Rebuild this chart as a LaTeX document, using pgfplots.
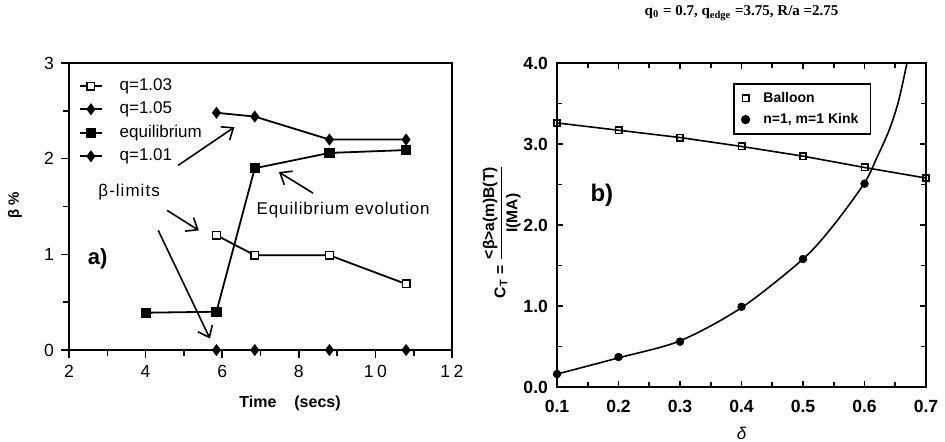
\documentclass[border=0pt]{standalone}
\usepackage{pgfplots}
\pgfplotsset{compat=1.18}
\usetikzlibrary{arrows.meta}
\usepackage{fontspec}
\setmainfont{Liberation Sans}
\newfontfamily\serif{Liberation Serif}
\newfontfamily\spaced[LetterSpace=20]{Liberation Sans}
\begin{document}
\begin{tikzpicture}
\useasboundingbox (0,0) rectangle (472.5pt,220.5pt);
% ---------------- panel a ----------------
\begin{axis}[
 at={(34.5pt,45.5pt)}, anchor=south west, scale only axis,
 width=191.5pt, height=143.5pt,
 xmin=2, xmax=12, ymin=0, ymax=3,
 xtick={2,4,6,8,10,12}, ytick={0,1,2,3},
 minor x tick num=1, minor y tick num=1,
 xtick pos=bottom, ytick pos=left, tick align=outside,
 major tick length=4pt, minor tick length=3pt,
 axis line style={line width=1pt},
 every tick/.style={line width=0.8pt, black},
 tick label style={font=\spaced\fontsize{8.8}{10}\selectfont},
 /pgf/number format/assume math mode=true,
 xlabel={\bfseries Time\hspace{9pt}(secs)},
 xlabel style={at={(axis description cs:0.577,-0.185)}, anchor=center, font=\fontsize{8}{9}\selectfont},
 ylabel={\bfseries β \%},
 ylabel style={at={(axis description cs:-0.141,0.505)}, anchor=center, font=\fontsize{7.5}{8}\selectfont},
 legend style={at={(axis description cs:0.01,0.975)}, anchor=north west, draw=none, fill=none,
   font=\fontsize{8.5}{10}\selectfont, row sep=0.2pt},
 legend cell align=left,
 legend image code/.code={\draw[mark repeat=2,mark phase=2] plot coordinates {(0cm,0cm)(0.19cm,0cm)(0.38cm,0cm)};},
 /tikz/every odd column/.append style={column sep=6.5pt},
]
\addplot[black, line width=0.9pt, mark=square*, mark size=1.9pt, mark options={fill=white, line width=0.7pt}]
 coordinates {(5.85,1.2)(6.85,0.99)(8.8,0.99)(10.8,0.69)};
\addlegendentry{q=1.03}
\addplot[black, line width=0.9pt, mark=diamond*, mark size=2.3pt]
 coordinates {(5.85,2.48)(6.85,2.44)(8.8,2.2)(10.8,2.2)};
\addlegendentry{q=1.05}
\addplot[black, line width=0.9pt, mark=square*, mark size=2.1pt]
 coordinates {(4.0,0.39)(5.85,0.4)(6.85,1.9)(8.8,2.06)(10.8,2.09)};
\addlegendentry{equilibrium}
\addplot[black, line width=0.9pt, mark=diamond*, mark size=2.3pt]
 coordinates {(5.85,0)(6.85,0)(8.8,0)(10.8,0)};
\addlegendentry{q=1.01}
\draw[line width=0.8pt, -{Straight Barb[length=5pt,width=8pt]}] (axis cs:4.85,1.93) -- (axis cs:6.32,2.33);
\draw[line width=0.8pt, -{Straight Barb[length=5pt,width=8pt]}] (axis cs:4.56,1.46) -- (axis cs:5.39,1.25);
\draw[line width=0.8pt, -{Straight Barb[length=5pt,width=8pt]}] (axis cs:4.33,1.25) -- (axis cs:5.68,0.12);
\draw[line width=0.8pt, -{Straight Barb[length=5pt,width=8pt]}] (axis cs:8.37,1.64) -- (axis cs:7.48,1.86);
\node[font=\addfontfeature{LetterSpace=6}\fontsize{8.5}{10}\selectfont] at (axis cs:3.57,1.65) {β-limits};
\node[font=\addfontfeature{LetterSpace=5}\fontsize{8.5}{10}\selectfont] at (axis cs:9.16,1.46) {Equilibrium evolution};
\node[font=\bfseries\fontsize{11}{13}\selectfont] at (axis cs:2.75,0.95) {a)};
\end{axis}
% ---------------- panel b ----------------
\begin{axis}[
 at={(278.5pt,27pt)}, anchor=south west, scale only axis,
 width=184.5pt, height=162pt,
 xmin=0.1, xmax=0.7, ymin=0, ymax=4,
 xtick={0.1,0.2,0.3,0.4,0.5,0.6,0.7}, ytick={0,1,2,3,4},
 minor x tick num=1, minor y tick num=1,
 tick align=inside,
 major tick length=3pt, minor tick length=2.5pt,
 axis line style={line width=1pt},
 every tick/.style={line width=0.8pt, black},
 tick label style={font=\bfseries\fontsize{8.8}{10}\selectfont},
 /pgf/number format/assume math mode=true,
 /pgf/number format/fixed, /pgf/number format/fixed zerofill, /pgf/number format/precision=1,
 xticklabel style={yshift=-3pt},
 yticklabel style={xshift=-1pt},
 xlabel={\itshape δ},
 xlabel style={at={(axis description cs:0.5,-0.142)}, anchor=center, font=\fontsize{8.5}{9}\selectfont},
 ylabel={\bfseries C\textsubscript{T} = $\displaystyle\frac{\mbox{\bfseries <β>a(m)B(T)}}{\mbox{\bfseries I(MA)}}$},
 ylabel style={at={(axis description cs:-0.15,0.48)}, anchor=center, font=\fontsize{7.8}{9}\selectfont},
 legend style={at={(axis description cs:0.477,0.938)}, anchor=north west, draw=black, line width=0.8pt,
   font=\bfseries\fontsize{7}{8.5}\selectfont, inner xsep=4pt, inner ysep=2pt, row sep=0pt},
 legend cell align=left,
 legend image code/.code={\draw[only marks] plot coordinates {(0.1cm,0cm)};},
 /tikz/every odd column/.append style={column sep=5pt},
]
\addplot[black, line width=0.8pt, mark=square, mark size=1.6pt, mark options={line width=0.8pt}]
 coordinates {(0.1,3.26)(0.2,3.17)(0.3,3.08)(0.4,2.97)(0.5,2.85)(0.6,2.71)(0.7,2.58)};
\addlegendentry{Balloon}
\addplot[black, only marks, mark=*, mark size=1.9pt]
 coordinates {(0.1,0.16)(0.2,0.37)(0.3,0.56)(0.4,0.99)(0.5,1.58)(0.6,2.51)};
\addlegendentry{n=1, m=1 Kink}
\addplot[black, line width=0.8pt, smooth, forget plot]
 coordinates {(0.1,0.16)(0.2,0.36)(0.3,0.57)(0.4,0.98)(0.5,1.58)(0.55,2.0)(0.6,2.52)(0.62,2.83)(0.64,3.17)(0.655,3.52)(0.669,4.0)(0.673,4.2)};
\node[font=\bfseries\fontsize{12}{14}\selectfont] at (axis cs:0.173,2.37) {b)};
\end{axis}
\node[font=\serif\bfseries\fontsize{7.5}{8}\selectfont] at (370.8pt,214pt) {q\textsubscript{0} = 0.7, q\textsubscript{edge} =3.75, R/a =2.75};
\end{tikzpicture}
\end{document}
